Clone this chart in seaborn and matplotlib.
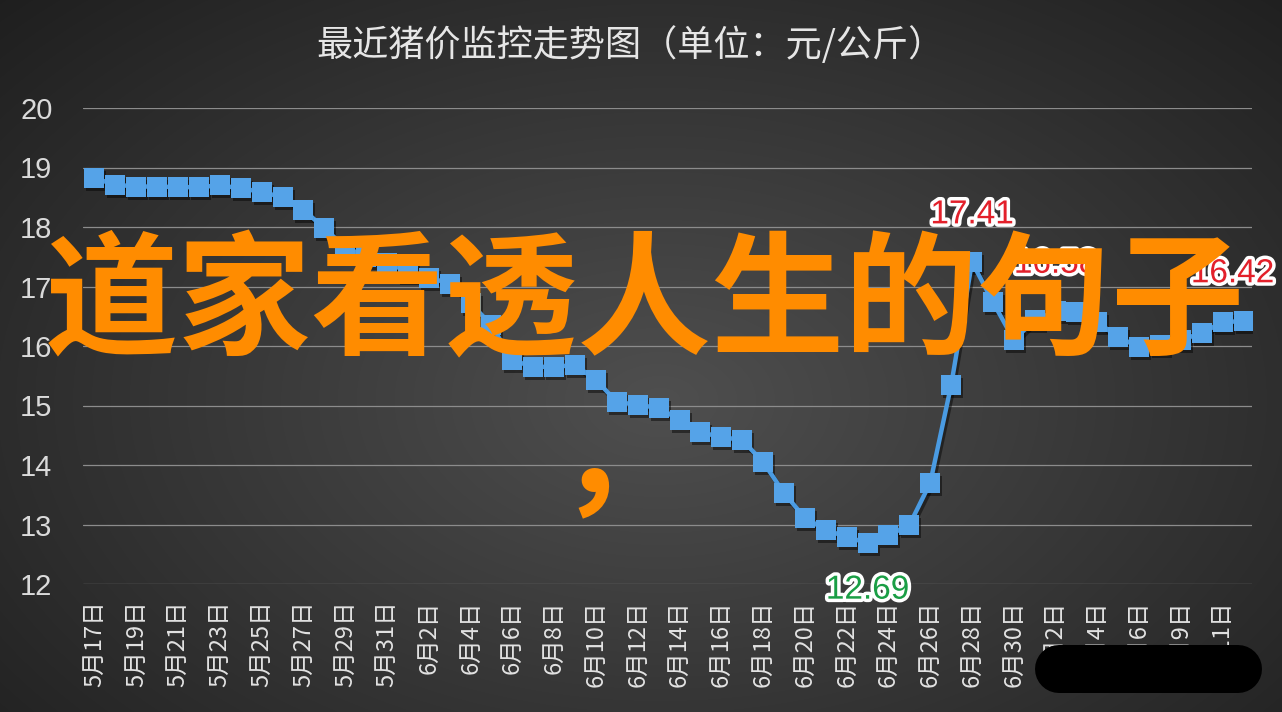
import numpy as np
import seaborn as sns
import matplotlib.pyplot as plt
import matplotlib.patheffects as pe
from matplotlib.transforms import offset_copy

# 日期与猪价 (元/公斤)
dates = ['5月17日', '5月18日', '5月19日', '5月20日', '5月21日', '5月22日', '5月23日',
         '5月24日', '5月25日', '5月26日', '5月27日', '5月28日', '5月29日', '5月30日',
         '5月31日', '6月1日', '6月2日', '6月3日', '6月4日', '6月5日', '6月6日', '6月7日',
         '6月8日', '6月9日', '6月10日', '6月11日', '6月12日', '6月13日', '6月14日',
         '6月15日', '6月16日', '6月17日', '6月18日', '6月19日', '6月20日', '6月21日',
         '6月22日', '6月23日', '6月24日', '6月25日', '6月26日', '6月27日', '6月28日',
         '6月29日', '6月30日', '7月1日', '7月2日', '7月3日', '7月4日', '7月5日', '7月6日',
         '7月8日', '7月9日', '7月10日', '7月11日', '7月12日']
prices = [18.82, 18.71, 18.68, 18.68, 18.67, 18.67, 18.70, 18.65, 18.59, 18.50,
          18.29, 17.98, 17.66, 17.50, 17.40, 17.25, 17.15, 17.05, 16.72, 16.35,
          15.76, 15.65, 15.65, 15.68, 15.43, 15.06, 15.01, 14.96, 14.76, 14.55,
          14.47, 14.42, 14.05, 13.53, 13.11, 12.91, 12.79, 12.69, 12.82, 12.99,
          13.70, 15.34, 17.41, 16.74, 16.10, 16.44, 16.58, 16.57, 16.40, 16.15,
          15.98, 16.02, 16.10, 16.22, 16.40, 16.42]
y_ticks = [12, 13, 14, 15, 16, 17, 18, 19, 20]

# 标注点: (索引, 颜色, 上/下)
labels_idx = [42, 37, 46, 55]
labels_color = ['#e3202a', '#1a9e45', '#e3202a', '#e3202a']
labels_side = ['up', 'down', 'up', 'up']

title = '最近猪价监控走势图（单位：元/公斤）'
overlay = '道家看透人生的句子'

W, H = 1282, 712
sns.set_theme(style='dark')
plt.rcParams['font.family'] = ['Noto Sans CJK SC', 'DejaVu Sans']

fig = plt.figure(figsize=(W / 100, H / 100), dpi=100)

# 背景径向渐变
bg = fig.add_axes([0, 0, 1, 1], zorder=0)
yy, xx = np.mgrid[0:H, 0:W]
r = np.sqrt(((xx - 660) / 820) ** 2 + ((yy - 400) / 520) ** 2)
shade = np.clip(0.31 - 0.17 * r, 0.12, 0.32)
bg.imshow(np.dstack([shade] * 3), aspect='auto', extent=[0, 1, 0, 1])
bg.axis('off')

ax = fig.add_axes([83 / W, 1 - 584 / H, (1252 - 83) / W, (584 - 108) / H], zorder=1)
ax.set_facecolor('none')

x = np.arange(len(prices))
# 阴影
ax.plot(x, prices, transform=offset_copy(ax.transData, fig, x=2, y=-3, units='dots'),
        color='black', alpha=0.45, lw=3.5, marker='s', ms=14, mew=0, zorder=2)
sns.lineplot(x=x, y=prices, ax=ax, color='#4a9be2', lw=3.2, marker='s', markersize=14,
             markeredgewidth=0, markerfacecolor='#55a3e8', zorder=3)

ax.set_xlim(-0.55, 55.4)
ax.set_ylim(12, 20)
ax.set_yticks(y_ticks)
ax.set_yticklabels([str(v) for v in y_ticks], color='#dadada', fontsize=21,
                   family=['Liberation Sans', 'DejaVu Sans'])
ax.set_xticks(x[::2])
ax.set_xticklabels(dates[::2], rotation=90, color='#e2e2e2', fontsize=17)
ax.tick_params(axis='y', length=0, pad=22)
ax.tick_params(axis='x', length=0, pad=12)
ax.grid(axis='y', color='#8c8c8c', lw=0.9)
ax.grid(axis='x', visible=False)
for s in ax.spines.values():
    s.set_visible(False)
ax.set_xlabel('')
ax.set_ylabel('')

for i, c, side in zip(labels_idx, labels_color, labels_side):
    dy = 34 if side == 'up' else -34
    dx = -8 if i == len(prices) - 1 else 0
    ax.annotate(f'{prices[i]:.2f}', (i, prices[i]), xytext=(dx, dy), textcoords='offset points',
                ha='center', va='center', color=c, fontsize=24, zorder=5,
                family=['Liberation Sans', 'DejaVu Sans'],
                path_effects=[pe.withStroke(linewidth=5, foreground='white')])

fig.text(630 / W, 1 - 45 / H, title, ha='center', va='center', color='#e6e6e6', fontsize=26)

fig.text(645 / W, 1 - 305 / H, overlay, ha='center', va='center', color='#ff8c00',
         fontsize=96, weight='bold', zorder=10)
fig.text(623 / W, 1 - 460 / H, '，', ha='center', va='center', color='#ff8c00',
         fontsize=96, weight='bold', zorder=10)

# 圆角黑条
fig.add_artist(plt.Line2D([1059 / W, 1238 / W], [1 - 669 / H, 1 - 669 / H],
                          transform=fig.transFigure, color='black', lw=48 * 0.72,
                          solid_capstyle='round', zorder=11))

fig.savefig('out.png', dpi=100)
